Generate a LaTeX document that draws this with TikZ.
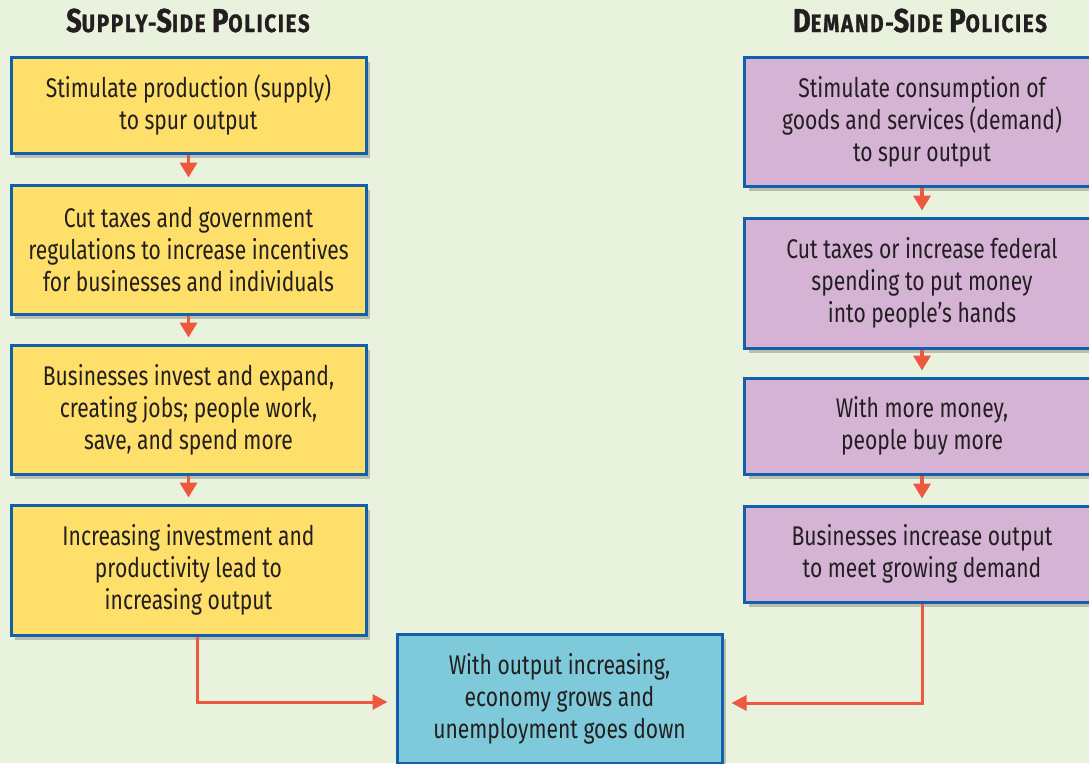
\documentclass[tikz,border=0pt]{standalone}
\usepackage{fontspec}
\setmainfont{Fira Sans}[FakeStretch=0.78]
\newfontfamily\headfont{Fira Sans}[FakeStretch=0.82,LetterSpace=7,FakeBold=1.2]
\usetikzlibrary{arrows.meta,shadows}
\definecolor{cbg}{RGB}{233,242,220}
\definecolor{csupply}{RGB}{254,223,106}
\definecolor{cdemand}{RGB}{212,179,212}
\definecolor{cresult}{RGB}{126,201,218}
\definecolor{cedge}{RGB}{20,95,170}
\definecolor{cflow}{RGB}{238,88,62}
\definecolor{ctext}{RGB}{35,31,32}
\newcommand\hcap[1]{{\fontsize{33}{33}\selectfont #1}}

\begin{document}
\begin{tikzpicture}[x=1pt,y=-1pt,
  box/.style={draw=cedge,line width=3pt,minimum width=355pt,inner sep=0pt,align=center,
    text=ctext,font=\fontsize{27}{32}\selectfont,
    drop shadow={shadow xshift=4pt,shadow yshift=-5pt,opacity=0.3,fill=black!70}},
  supply/.style={box,fill=csupply},
  demand/.style={box,fill=cdemand},
  result/.style={box,fill=cresult,minimum width=325pt},
  head/.style={anchor=base,text=ctext,font=\headfont\bfseries\fontsize{25}{25}\selectfont},
  down/.style={cflow,line width=3.5pt,-{Triangle[width=17pt,length=15pt]},shorten >=6pt},
  flow/.style={cflow,line width=3pt,-{Triangle[width=15pt,length=15pt]},shorten >=8pt}]
  \clip (0,0) rectangle (1089,763);
  \fill[cbg] (0,0) rectangle (1089,763);
  % headings
  \node[head] (shead) at (188,32) {\hcap{S}UPPLY-\hcap{S}IDE \hcap{P}OLICIES};
  \node[head] (dhead) at (920,32) {\hcap{D}EMAND-\hcap{S}IDE \hcap{P}OLICIES};
  % supply side
  \node[supply,minimum height=96pt] (s1) at (188.5,105) {Stimulate production (supply)\\to spur output};
  \node[supply,minimum height=129pt] (s2) at (188.5,249.5) {Cut taxes and government\\regulations to increase incentives\\for businesses and individuals};
  \node[supply,minimum height=129pt] (s3) at (188.5,409.5) {Businesses invest and expand,\\creating jobs; people work,\\save, and spend more};
  \node[supply,minimum height=130pt] (s4) at (188.5,570) {Increasing investment and\\productivity lead to\\increasing output};
  % demand side
  \node[demand,minimum height=129pt] (d1) at (922,121.5) {Stimulate consumption of\\goods and services (demand)\\to spur output};
  \node[demand,minimum height=130pt] (d2) at (922,283) {Cut taxes or increase federal\\spending to put money\\into people’s hands};
  \node[demand,minimum height=96pt] (d3) at (922,426) {With more money,\\people buy more};
  \node[demand,minimum height=96pt] (d4) at (922,554) {Businesses increase output\\to meet growing demand};
  % outcome
  \node[result,minimum height=129pt] (res) at (559.5,698.5) {With output increasing,\\economy grows and\\unemployment goes down};
  \draw[down] (s1) -- (s2);
  \draw[down] (s2) -- (s3);
  \draw[down] (s3) -- (s4);
  \draw[down] (d1) -- (d2);
  \draw[down] (d2) -- (d3);
  \draw[down] (d3) -- (d4);
  \draw[flow] ([xshift=8.5pt]s4.south) |- ([yshift=-3.5pt]res.west);
  \draw[flow] (d4.south) |- ([yshift=-4.5pt]res.east);
\end{tikzpicture}
\end{document}
